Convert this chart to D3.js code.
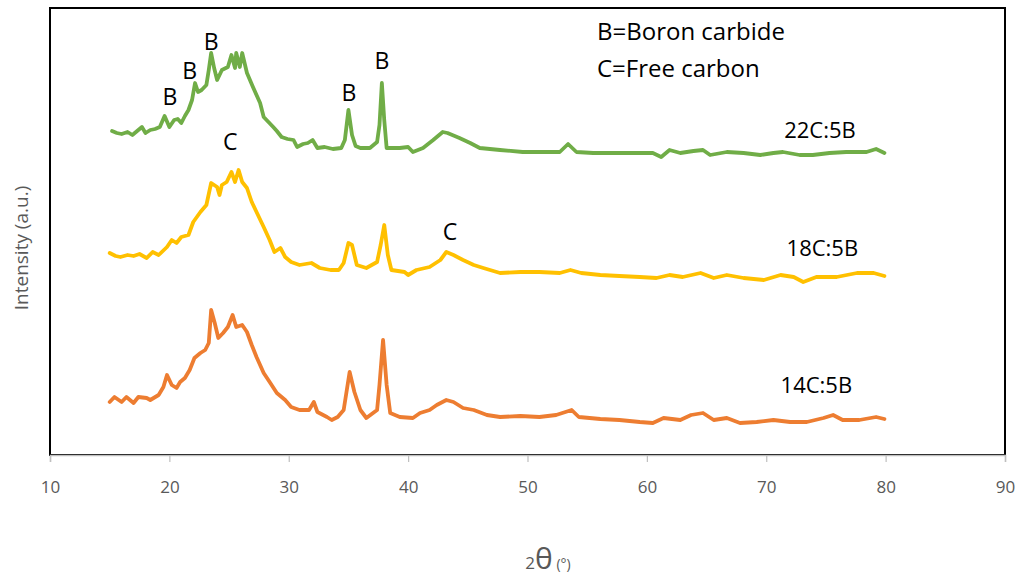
<!DOCTYPE html>
<html>
<head>
<meta charset="utf-8">
<script src="https://cdn.jsdelivr.net/npm/d3@7"></script>
<style>
  body { margin: 0; background: #fff; }
  svg { display: block; }
</style>
</head>
<body>
<div class="graph"></div>
<script>
// 2theta positions and intensities (a.u.)
const x22 = [15.2,15.6,16.0,16.5,16.9,17.3,17.7,18.0,18.4,18.8,19.2,19.6,20.0,20.4,20.7,21.0,21.3,21.6,21.9,22.15,22.4,22.7,23.1,23.3,23.5,23.75,24.0,24.4,24.9,25.2,25.5,25.6,25.9,26.1,26.5,27.0,27.6,27.9,28.3,28.7,29.0,29.4,29.9,30.4,30.7,31.2,31.6,32.0,32.4,33.0,33.7,34.4,34.7,35.0,35.3,35.6,36.0,36.8,37.4,37.6,37.8,38.0,38.2,38.8,39.3,40.0,40.4,41.25,42.1,42.9,43.3,44.3,45.2,46.0,47.7,49.6,51.6,52.7,53.4,54.1,55.5,57.2,58.8,60.5,61.2,61.9,62.8,63.9,64.7,65.3,66.7,68.1,69.5,70.6,71.4,72.8,73.9,75.3,76.7,78.4,79.2,79.9]
const y22 = [324,322,321,323,320,324,328,322,325,326,328,339,328,335,336,332,339,345,355,372,363,365,370,385,402,387,375,385,388,400,387,402,388,402,382,368,352,338,333,328,324,318,316,315,308,311,312,315,307,308,306,307,315,345,320,309,307,307,313,330,372,335,307,307,307,308,303,307,315,323,322,317,312,307,305,303,303,303,311,303,302,302,302,302,298,305,302,304,305,300,303,302,300,302,303,300,300,302,303,303,306,302]

const x18 = [15.0,15.5,15.9,16.5,17.0,17.5,18.1,18.6,19.1,19.8,20.2,20.6,21.0,21.6,22.0,22.6,23.1,23.5,24.0,24.2,24.4,24.8,25.2,25.5,25.8,26.1,26.5,26.9,27.3,27.9,28.4,28.8,29.3,29.7,30.2,30.9,31.9,32.6,33.5,34.2,34.6,35.0,35.3,35.7,36.5,37.4,37.7,38.0,38.3,38.6,39.7,40.0,40.7,41.8,42.7,43.2,43.8,44.6,45.5,46.3,47.7,49.4,51.0,52.7,53.6,54.5,56.1,57.7,59.4,60.8,61.9,63.0,64.5,65.6,66.7,68.1,69.8,71.2,72.3,73.1,74.2,75.9,77.6,79.0,79.9]
const y18 = [202,199,198,200,199,201,197,203,200,208,215,212,218,220,233,243,250,272,268,260,270,273,283,273,285,273,267,253,243,228,215,203,207,198,193,190,192,187,185,185,192,212,210,190,187,193,210,230,200,185,183,180,185,188,195,203,200,195,190,187,182,183,183,182,185,182,180,179,178,177,180,178,182,177,180,177,175,180,178,173,178,178,182,182,179]

const x14 = [15.0,15.4,16.0,16.4,17.0,17.4,18.1,18.4,19.1,19.5,19.8,20.2,20.6,20.9,21.3,21.7,22.1,22.6,23.0,23.3,23.5,23.8,24.1,24.5,24.9,25.3,25.6,26.1,26.5,26.9,27.3,27.9,28.4,29.0,29.7,30.2,30.9,31.7,32.1,32.4,33.2,33.6,34.1,34.6,35.1,35.5,36.0,36.5,37.4,37.6,37.9,38.2,38.5,39.3,40.4,41.0,41.8,42.4,43.2,43.8,44.6,45.5,46.6,47.7,49.4,51.0,52.4,53.7,54.3,56.1,57.7,59.4,60.5,61.4,62.8,63.7,64.7,65.6,66.7,67.8,69.2,70.6,72.0,73.4,74.8,75.6,76.4,77.8,79.2,79.9]
const y14 = [53,58,53,58,52,58,57,55,60,68,80,70,67,73,77,85,97,102,105,112,145,132,117,122,128,140,128,130,123,110,98,82,73,62,55,48,45,45,53,43,38,35,38,45,83,63,45,37,45,70,115,70,42,38,37,42,45,50,55,53,47,45,40,38,39,38,40,45,38,36,35,33,32,37,35,40,42,35,37,32,33,35,33,33,37,40,35,35,38,36]

const seriesNames = ["22C:5B", "18C:5B", "14C:5B"]
const seriesColors = ["#70AD47", "#FFC000", "#ED7D31"]
const seriesLabelX = [74.5, 74.7, 74.2]
const seriesLabelY = [317, 199, 62]

// peak letters
const peakText = ["B", "B", "B", "B", "B", "C", "C"]
const peakX = [20.05, 21.7, 23.5, 35.05, 37.8, 25.1, 43.5]
const peakY = [350, 376, 405, 354, 386, 305, 215]

const xTicks = [10, 20, 30, 40, 50, 60, 70, 80, 90]

const font = "'Open Sans', sans-serif"
const svg = d3.select(".graph").append("svg").attr("width", 1025).attr("height", 578)
const plotL = 50, plotR = 1005, plotT = 8, plotB = 455

const xScale = d3.scaleLinear().domain([10, 90]).range([plotL, plotR])
const yScale = d3.scaleLinear().domain([0, 447]).range([plotB, plotT])

// frame
svg.append("rect")
  .attr("x", plotL).attr("y", plotT)
  .attr("width", plotR - plotL).attr("height", plotB - plotT)
  .attr("fill", "none").attr("stroke", "#000").attr("stroke-width", 2)

// x axis
const xAxis = svg.append("g")
  .attr("transform", "translate(0," + plotB + ")")
  .call(d3.axisBottom(xScale).tickValues(xTicks).tickSize(7).tickPadding(19))
xAxis.select(".domain").attr("stroke", "#bfbfbf").attr("stroke-width", 1.5)
xAxis.selectAll(".tick line").attr("stroke", "#bfbfbf").attr("stroke-width", 1.2)
xAxis.selectAll(".tick text")
  .attr("fill", "#595959").attr("font-family", font).attr("font-size", 17)

const line = d3.line().x(d => xScale(d[0])).y(d => yScale(d[1]))

const allX = [x22, x18, x14]
const allY = [y22, y18, y14]
allX.forEach((xs, i) => {
  const pts = xs.map((v, j) => [v, allY[i][j]])
  svg.append("path")
    .datum(pts)
    .attr("d", line)
    .attr("fill", "none")
    .attr("stroke", seriesColors[i])
    .attr("stroke-width", 3.8)
    .attr("stroke-linejoin", "round")
    .attr("stroke-linecap", "round")

  svg.append("text")
    .attr("x", xScale(seriesLabelX[i]))
    .attr("y", yScale(seriesLabelY[i]))
    .attr("text-anchor", "middle")
    .attr("font-family", font)
    .attr("font-size", 22)
    .text(seriesNames[i])
})

peakText.forEach((t, i) => {
  svg.append("text")
    .attr("x", xScale(peakX[i]))
    .attr("y", yScale(peakY[i]))
    .attr("text-anchor", "middle")
    .attr("font-family", font)
    .attr("font-size", 23)
    .text(t)
})

// key text
svg.append("text").attr("x", 597).attr("y", 40)
  .attr("font-family", font).attr("font-size", 24).text("B=Boron carbide")
svg.append("text").attr("x", 597).attr("y", 77)
  .attr("font-family", font).attr("font-size", 24).text("C=Free carbon")

// axis titles
const xt = svg.append("text")
  .attr("x", 548).attr("y", 569)
  .attr("text-anchor", "middle")
  .attr("fill", "#595959")
  .attr("font-family", font)
xt.append("tspan").attr("font-size", 17).text("2")
xt.append("tspan").attr("font-size", 30).text("θ")
xt.append("tspan").attr("font-size", 14).text(" (°)")

svg.append("text")
  .attr("transform", "translate(28,248) rotate(-90)")
  .attr("text-anchor", "middle")
  .attr("fill", "#595959")
  .attr("font-family", font)
  .attr("font-size", 19)
  .text("Intensity (a.u.)")
</script>
</body>
</html>
